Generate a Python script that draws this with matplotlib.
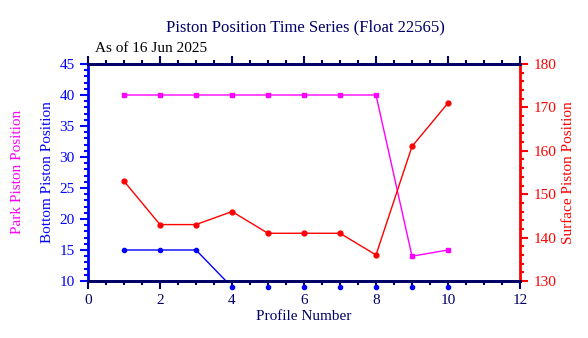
import matplotlib
matplotlib.use("Agg")
import matplotlib.pyplot as plt
from matplotlib.ticker import MultipleLocator

profiles = [1, 2, 3, 4, 5, 6, 7, 8, 9, 10]
park = [40, 40, 40, 40, 40, 40, 40, 40, 14, 15]
bottom = [15, 15, 15, 9, 9, 9, 9, 9, 9, 9]
surface = [153, 143, 143, 146, 141, 141, 141, 136, 161, 171]

plt.rcParams['font.family'] = ['Liberation Serif', 'DejaVu Serif']
navy = '#000066'

fig = plt.figure(figsize=(5.88, 3.38), dpi=100)
ax = fig.add_axes([88/588, 1 - 281/338, (520-88)/588, (281-64)/338])
ax2 = ax.twinx()

ax.plot(profiles, park, color='#ff00ff', lw=1, marker='s', ms=3, zorder=3)
ax.plot(profiles, bottom, color='#0000ff', lw=1, zorder=3)
ax.plot(profiles, bottom, color='#0000ff', lw=0, marker='o', ms=3, clip_on=False, zorder=3)
ax2.plot(profiles, surface, color='#ff0000', lw=1, marker='o', ms=3.5)

ax.set_xlim(0, 12)
ax.set_ylim(10, 45)
ax2.set_ylim(130, 180)
ax.xaxis.set_major_locator(MultipleLocator(2))
ax.xaxis.set_minor_locator(MultipleLocator(0.5))
ax.yaxis.set_major_locator(MultipleLocator(5))
ax.yaxis.set_minor_locator(MultipleLocator(1))
ax2.yaxis.set_major_locator(MultipleLocator(10))
ax2.yaxis.set_minor_locator(MultipleLocator(2))

for a in (ax, ax2):
    a.spines['top'].set_color(navy)
    a.spines['bottom'].set_color(navy)
    a.spines['top'].set_linewidth(2)
    a.spines['bottom'].set_linewidth(2)
ax.spines['left'].set_color('#0000ff')
ax.spines['left'].set_linewidth(2)
ax2.spines['right'].set_color('#ff0000')
ax2.spines['right'].set_linewidth(2)
ax2.spines['left'].set_visible(False)
ax.spines['right'].set_visible(False)

ax.tick_params(axis='x', which='both', colors=navy, top=True, direction='out', labelsize=11)
ax.tick_params(axis='x', which='major', length=6, width=1.5)
ax.tick_params(axis='x', which='minor', length=3, width=1.5)
ax.tick_params(axis='y', which='both', colors='#0000ff', labelsize=11, width=1.5)
ax.tick_params(axis='y', which='major', length=6)
ax.tick_params(axis='y', which='minor', length=3)
ax2.tick_params(axis='y', which='both', colors='#ff0000', labelsize=11, width=1.5)
ax2.tick_params(axis='y', which='major', length=6)
ax2.tick_params(axis='y', which='minor', length=3)

ax.set_xlabel('Profile Number', color=navy, fontsize=11, labelpad=2)
ax.set_ylabel('Bottom Piston Position', color='#0000ff', fontsize=11, labelpad=4)
fig.text(18/588, 1 - 172/338, 'Park Piston Position', color='#ff00ff', fontsize=11,
         rotation=90, ha='center', va='center')
ax2.set_ylabel('Surface Piston Position', color='#ff0000', fontsize=11, labelpad=4)

fig.text(305/588, 1 - 27/338, 'Piston Position Time Series (Float 22565)', color=navy,
         fontsize=12, ha='center', va='center')
fig.text(95/588, 1 - 49/338, 'As of 16 Jun 2025', color='black', fontsize=11,
         ha='left', va='center')

fig.savefig('out.png', dpi=100)
